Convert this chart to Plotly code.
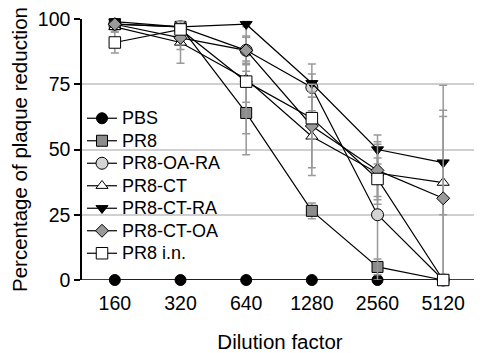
import plotly.graph_objects as go

dilutions = ["160", "320", "640", "1280", "2560", "5120"]

pbs = [0, 0, 0, 0, 0, 0]
pr8 = [98, 97, 64, 26.5, 5, 0]
pr8_oa_ra = [98, 97, 88, 73.8, 25, 0]
pr8_ct = [97, 91, 77, 55, 41, 37.3]
pr8_ct_ra = [99, 97, 98, 75.4, 50, 45]
pr8_ct_oa = [98, 92.8, 88, 59, 42, 31.3]
pr8_in = [91, 96, 76, 62, 38.7, 0]

err_pbs = [0, 0, 0, 0, 0, 0]
err_pr8 = [1, 1, 16, 3, 3, 0]
err_pr8_oa_ra = [1, 1, 5.5, 9, 25, 0]
err_pr8_ct = [2, 8, 21, 15, 12, 37.3]
err_pr8_ct_ra = [1, 1, 1, 3.5, 5.6, 20]
err_pr8_ct_oa = [1, 4.5, 5, 16, 10, 31.3]
err_pr8_in = [4, 2, 7.9, 8, 8, 0]

names = ["PBS", "PR8", "PR8-OA-RA", "PR8-CT", "PR8-CT-RA", "PR8-CT-OA", "PR8 i.n."]
series = [pbs, pr8, pr8_oa_ra, pr8_ct, pr8_ct_ra, pr8_ct_oa, pr8_in]
errors = [err_pbs, err_pr8, err_pr8_oa_ra, err_pr8_ct, err_pr8_ct_ra, err_pr8_ct_oa, err_pr8_in]
symbols = ["circle", "square", "circle", "triangle-up", "triangle-down", "diamond", "square"]
fills = ["black", "#8c8c8c", "#d4d4d4", "white", "black", "#9a9a9a", "white"]
sizes = [11, 11, 12, 10.5, 10.5, 10, 11.5]

fig = go.Figure()
for name, y, e, sym, fc, sz in zip(names, series, errors, symbols, fills, sizes):
    fig.add_trace(go.Scatter(
        x=dilutions, y=y, name=f'<span style="font-size:18px">{name}</span>',
        mode="lines+markers",
        line=dict(color="black", width=1.2),
        marker=dict(symbol=sym, size=sz, color=fc, line=dict(color="black", width=1)),
        error_y=dict(type="data", array=e, visible=True, color="#999999", thickness=1.5, width=4),
        cliponaxis=False,
    ))

# page body adds an 8px margin, so the figure is sized to compensate
fig.update_layout(
    width=474, height=345,
    margin=dict(l=74, r=4, t=11, b=73),
    paper_bgcolor="white", plot_bgcolor="white",
    font=dict(family="Liberation Sans, Arial, sans-serif", size=18, color="black"),
    showlegend=True,
    legend=dict(x=0.0, y=0.682, xanchor="left", yanchor="top", bgcolor="rgba(0,0,0,0)",
                font=dict(size=15), tracegroupgap=0),
    xaxis=dict(type="category", range=[-0.5, 5.53], showgrid=False, showline=False,
               ticks="outside", ticklen=6, tickcolor="rgba(0,0,0,0)", automargin=False,
               tickfont=dict(size=19.5),
               title=dict(text="Dilution factor", font=dict(size=20.5), standoff=28)),
    yaxis=dict(range=[0, 100], tickvals=[0, 25, 50, 75, 100], showgrid=True,
               gridcolor="#d0d0d0", gridwidth=1.5, showline=True, linecolor="black",
               linewidth=1.5, ticks="outside", ticklen=6, tickwidth=1.5, tickcolor="black",
               zeroline=False, tickfont=dict(size=19.5), automargin=False,
               ticklabeloverflow="allow",
               title=dict(text="Percentage of plaque reduction", font=dict(size=20.5), standoff=8)),
)
fig.add_shape(type="line", xref="paper", yref="y", x0=-0.018, x1=1, y0=0, y1=0,
              line=dict(color="black", width=1.5), layer="below")

fig.write_html("out.html")
